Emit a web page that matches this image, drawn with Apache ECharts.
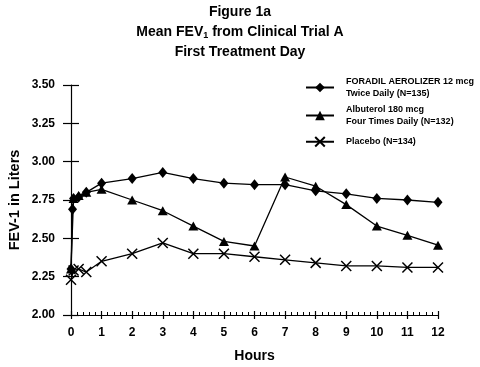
<!DOCTYPE html>
<html><head><meta charset="utf-8">
<script src="https://cdn.jsdelivr.net/npm/echarts@6/dist/echarts.min.js"></script>
<style>html,body{margin:0;padding:0;background:#fff}#c{width:480px;height:367px}</style>
</head><body><div id="c"></div>
<script>
var FONT = "'Liberation Sans', Arial, sans-serif";
var yTicks = ['2.00','2.25','2.50','2.75','3.00','3.25','3.50'];
var xTicks = ['0','1','2','3','4','5','6','7','8','9','10','11','12'];
var seriesNames = ['FORADIL AEROLIZER 12 mcg\nTwice Daily (N=135)', 'Albuterol 180 mcg\nFour Times Daily (N=132)', 'Placebo (N=134)'];
var foradilHours = [0, 0.05, 0.083, 0.25, 0.5, 1, 2, 3, 4, 5, 6, 7, 8, 9, 10, 11, 12];
var foradilFev = [2.30, 2.69, 2.76, 2.77, 2.80, 2.86, 2.89, 2.93, 2.89, 2.86, 2.85, 2.85, 2.81, 2.79, 2.76, 2.75, 2.735];
var albuterolHours = [0, 0.083, 0.25, 0.5, 1, 2, 3, 4, 5, 6, 7, 8, 9, 10, 11, 12];
var albuterolFev = [2.30, 2.76, 2.78, 2.80, 2.82, 2.75, 2.68, 2.58, 2.48, 2.45, 2.90, 2.84, 2.72, 2.58, 2.52, 2.455];
var placeboHours = [0, 0.083, 0.25, 0.5, 1, 2, 3, 4, 5, 6, 7, 8, 9, 10, 11, 12];
var placeboFev = [2.23, 2.29, 2.30, 2.28, 2.35, 2.40, 2.47, 2.40, 2.40, 2.38, 2.36, 2.34, 2.32, 2.32, 2.31, 2.31];

function pairs(h, v) { return h.map(function (x, i) { return [x, v[i]]; }); }

var chart = echarts.init(document.getElementById('c'), null, {renderer: 'canvas'});
var lineStyle = {color: '#000', width: 1.3};
var legendText = {fontFamily: FONT, fontWeight: 'bold', fontSize: 9, color: '#000', lineHeight: 12.5, padding: [0, 0, 0, 7]};
function legend(name, top) {
  return {data: [name], orient: 'vertical', left: 305, top: top, padding: 0, itemWidth: 28, itemHeight: 12,
    selectedMode: false, textStyle: legendText};
}
chart.setOption({
  animation: false,
  title: {
    text: 'Figure 1a\nMean FEV{sub|1} from Clinical Trial A\nFirst Treatment Day',
    left: 'center', top: 2, padding: 0,
    textStyle: {fontFamily: FONT, fontWeight: 'bold', fontSize: 14, color: '#000', lineHeight: 20,
      rich: {sub: {fontFamily: FONT, fontWeight: 'bold', fontSize: 9, color: '#000', padding: [8, 0, 0, 0]}}}
  },
  legend: [legend(seriesNames[0], 75), legend(seriesNames[1], 103), legend(seriesNames[2], 135.5)],
  grid: {left: 71, right: 42, top: 85, bottom: 52, containLabel: false, outerBoundsMode: 'none'},
  xAxis: [{
    type: 'value', min: 0, max: 12, interval: 1,
    name: 'Hours', nameLocation: 'middle', nameGap: 34, nameMoveOverlap: false,
    nameTextStyle: {fontFamily: FONT, fontWeight: 'bold', fontSize: 14, color: '#000'},
    axisLine: {onZero: false, lineStyle: {color: '#000', width: 1.2}},
    axisTick: {show: true, length: 4, lineStyle: {color: '#000', width: 1.2}},
    axisLabel: {margin: 12, fontFamily: FONT, fontWeight: 'bold', fontSize: 12, color: '#000',
      formatter: function (v) { return xTicks[Math.round(v)]; }},
    splitLine: {show: false}
  }, {
    type: 'value', min: 0, max: 12, interval: 1, position: 'bottom',
    axisLine: {show: false},
    axisTick: {show: true, inside: true, length: 4, lineStyle: {color: '#000', width: 1.2}},
    minorTick: {show: true, splitNumber: 5, length: 3, lineStyle: {color: '#000', width: 1}},
    axisLabel: {show: false}, splitLine: {show: false}
  }],
  yAxis: [{
    type: 'value', min: 2, max: 3.5, interval: 0.25,
    name: 'FEV-1 in Liters', nameLocation: 'middle', nameGap: 49, nameRotate: 90, nameMoveOverlap: false,
    nameTextStyle: {fontFamily: FONT, fontWeight: 'bold', fontSize: 14.5, color: '#000'},
    axisLine: {show: true, onZero: false, lineStyle: {color: '#000', width: 1.2}},
    axisTick: {show: true, length: 8, lineStyle: {color: '#000', width: 1.2}},
    axisLabel: {margin: 16, fontFamily: FONT, fontWeight: 'bold', fontSize: 12, color: '#000',
      formatter: function (v) { return yTicks[Math.round((v - 2) / 0.25)]; }},
    splitLine: {show: false}
  }, {
    type: 'value', min: 2, max: 3.5, interval: 0.25, position: 'left',
    axisLine: {show: false},
    axisTick: {show: true, inside: true, length: 8, lineStyle: {color: '#000', width: 1.2}},
    axisLabel: {show: false}, splitLine: {show: false}
  }],
  series: [{
    name: seriesNames[0], type: 'line', data: pairs(foradilHours, foradilFev),
    symbol: 'diamond', symbolSize: [9, 11], lineStyle: lineStyle,
    itemStyle: {color: '#000'}, z: 3
  }, {
    name: seriesNames[1], type: 'line', data: pairs(albuterolHours, albuterolFev),
    symbol: 'triangle', symbolSize: [10, 9], lineStyle: lineStyle,
    itemStyle: {color: '#000'}, z: 2
  }, {
    name: seriesNames[2], type: 'line', data: pairs(placeboHours, placeboFev),
    symbol: 'path://M0,0L10,10M10,0L0,10', symbolSize: 10, lineStyle: lineStyle,
    itemStyle: {color: '#000', borderColor: '#000', borderWidth: 1.5}, z: 1
  }]
});
</script></body></html>
